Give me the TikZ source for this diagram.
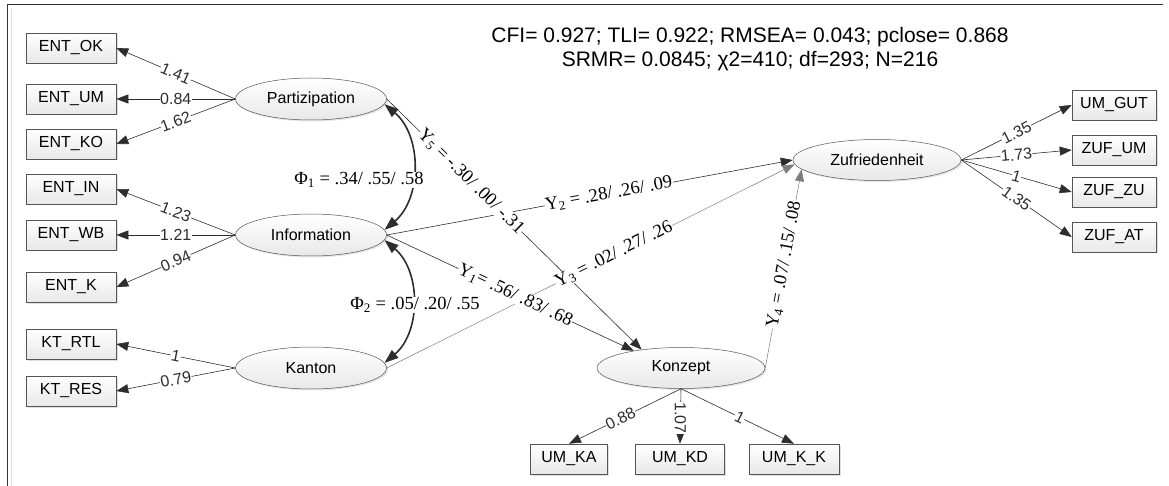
\documentclass[tikz,border=0pt]{standalone}
\usepackage{fontspec}
\setmainfont{Liberation Serif}
\setsansfont{Liberation Sans}
\usepackage{tikz}
\usetikzlibrary{shapes.geometric, arrows.meta, shadows}
\definecolor{myline}{RGB}{45,45,45}
\definecolor{mygrey}{RGB}{125,125,125}
\definecolor{boxedge}{RGB}{85,85,85}
\definecolor{boxfill}{RGB}{232,232,232}
\newcommand{\sfsize}{\sffamily\fontsize{16}{19}\selectfont}
\tikzset{
  obsbox/.style={rectangle, draw=boxedge, top color=white, bottom color=boxfill,
    minimum width=90pt, minimum height=30pt, inner sep=0pt,
    font=\sfsize, line width=0.6pt,
    drop shadow={shadow xshift=1.5pt, shadow yshift=-1.5pt, opacity=0.25}},
  latent/.style={ellipse, draw=boxedge, top color=white, bottom color=boxfill,
    minimum width=151pt, minimum height=42pt, inner sep=0pt,
    font=\sfsize, line width=0.5pt,
    drop shadow={shadow xshift=1.5pt, shadow yshift=-1.5pt, opacity=0.2}},
  loadarrow/.style={-{Triangle[length=12pt,width=9pt]}, line width=0.6pt, color=myline},
  greyarrow/.style={-{Triangle[length=12pt,width=9pt]}, line width=0.5pt, color=mygrey},
  corrarrow/.style={{Triangle[length=14pt,width=10pt]}-{Triangle[length=14pt,width=10pt]},
    line width=1.6pt, color=myline},
  coef/.style={font=\sfsize, fill=white, inner sep=0.5pt, sloped},
  gcoef/.style={font=\fontsize{18.5}{21}\selectfont, fill=white, inner sep=0.5pt, sloped}
}
\begin{document}
\begin{tikzpicture}[x=1pt, y=-1pt]
  \useasboundingbox (0,0) rectangle (1169,486);
  % frame
  \draw[black!80, line width=1pt] (7,486) -- (7,5) -- (1163,5);
  \draw[black!12, line width=0.6pt] (11,486) -- (11,9);

  % fit indices
  \node[font=\sffamily\fontsize{21}{24}\selectfont, align=center] (fitstats) at (750,49)
    {CFI= 0.927; TLI= 0.922; RMSEA= 0.043; pclose= 0.868\\SRMR= 0.0845; χ2=410; df=293; N=216};

  % latent variables
  \node[latent] (partiz) at (311,99) {Partizipation};
  \node[latent] (inform) at (311,235) {Information};
  \node[latent] (kanton) at (311,368) {Kanton};
  \node[latent, minimum width=168pt, minimum height=41pt] (konzept) at (681,368) {Konzept};
  \node[latent, minimum width=168pt, minimum height=41pt] (zufr) at (877,160) {Zufriedenheit};

  % indicators
  \node[obsbox] (entok) at (71,48) {ENT\_OK};
  \node[obsbox] (entum) at (71,99) {ENT\_UM};
  \node[obsbox] (entko) at (71,144) {ENT\_KO};
  \node[obsbox] (entin) at (71,189) {ENT\_IN};
  \node[obsbox] (entwb) at (71,235) {ENT\_WB};
  \node[obsbox] (entk) at (71,287) {ENT\_K};
  \node[obsbox] (ktrtl) at (71,344) {KT\_RTL};
  \node[obsbox] (ktres) at (71,391) {KT\_RES};
  \node[obsbox, minimum width=77pt] (umka) at (569,459) {UM\_KA};
  \node[obsbox, minimum width=89pt] (umkd) at (680,459) {UM\_KD};
  \node[obsbox] (umkk) at (794,459) {UM\_K\_K};
  \node[obsbox, minimum width=84pt] (umgut) at (1114,105) {UM\_GUT};
  \node[obsbox, minimum width=84pt] (zufum) at (1114,150) {ZUF\_UM};
  \node[obsbox, minimum width=84pt] (zufzu) at (1114,192) {ZUF\_ZU};
  \node[obsbox, minimum width=84pt] (zufat) at (1114,237) {ZUF\_AT};

  % loadings
  \foreach \ind/\val in {entok/1.41, entum/0.84, entko/1.62}
    \draw[loadarrow] (partiz.west) -- (\ind.east) node[coef, pos=0.5] {\val};
  \foreach \ind/\val in {entin/1.23, entwb/1.21, entk/0.94}
    \draw[loadarrow] (inform.west) -- (\ind.east) node[coef, pos=0.5] {\val};
  \foreach \ind/\val in {ktrtl/1, ktres/0.79}
    \draw[loadarrow] (kanton.west) -- (\ind.east) node[coef, pos=0.5] {\val};
  \foreach \ind/\val in {umgut/1.35, zufum/1.73, zufzu/1, zufat/1.35}
    \draw[loadarrow] (zufr.east) -- (\ind.west) node[coef, pos=0.5] {\val};
  \draw[loadarrow] (konzept.south) -- (umka.north) node[coef, pos=0.54] {0.88};
  \draw[loadarrow] (konzept.south) -- (umkd.north) node[coef, sloped=false, rotate=-90, pos=0.53] {1.07};
  \draw[loadarrow] (konzept.south) -- (umkk.north) node[coef, pos=0.52] {1};

  % structural paths
  \draw[loadarrow] (inform.east) -- (zufr.west);
  \draw[greyarrow] (kanton.east) -- (zufr.183);
  \draw[greyarrow] (konzept.east) -- (zufr.187);
  \draw[loadarrow] (inform.east) -- (konzept.160);
  \draw[loadarrow] (partiz.east) -- (konzept.155);
  \draw[corrarrow] (partiz.-4) to[out=-40, in=40] (inform.4);
  \draw[corrarrow] (inform.-4) to[out=-40, in=40] (kanton.4);

  % path coefficients
  \path (inform.east) -- (zufr.west) node[gcoef, pos=0.547] {Υ\textsubscript{2} = .28/ .26/ .09};
  \path (kanton.east) -- (zufr.183) node[gcoef, pos=0.557] {Υ\textsubscript{3} = .02/ .27/ .26};
  \path (konzept.east) -- (zufr.187) node[gcoef, pos=0.52] {Υ\textsubscript{4} = .07/ .15/ .08};
  \path (inform.east) -- (konzept.160) node[gcoef, pos=0.52] {Υ\textsubscript{1}= .56/ .83/ .68};
  \path (partiz.east) -- (konzept.155) node[gcoef, pos=0.33] {Υ\textsubscript{5} = -.30/ .00/ -.31};
  \node[gcoef, sloped=false] (phione) at (359,180) {Φ\textsubscript{1} = .34/ .55/ .58};
  \node[gcoef, sloped=false] (phitwo) at (415,305) {Φ\textsubscript{2} = .05/ .20/ .55};
\end{tikzpicture}
\end{document}
